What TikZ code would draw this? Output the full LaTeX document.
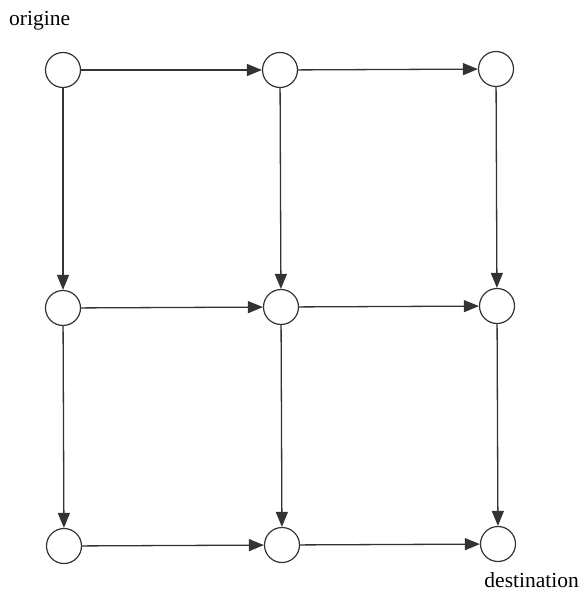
\documentclass[tikz,border=0pt]{standalone}
\usepackage{fontspec}
\setmainfont{Liberation Serif}
\usetikzlibrary{arrows.meta}
\begin{document}
\begin{tikzpicture}[x=1pt,y=-1pt,
  vtx/.style={circle,draw=black!80,line width=1.2pt,minimum size=35pt,inner sep=0pt},
  arr/.style={draw=black!80,line width=1.3pt,-{Triangle[length=15pt,width=12pt]}},
  lbl/.style={font=\fontsize{21.5}{24}\selectfont,inner sep=0pt}]
\useasboundingbox (0,0) rectangle (579,594);
\node[vtx] (a1) at (63,70) {};
\node[vtx] (a2) at (280,70) {};
\node[vtx] (a3) at (496,69) {};
\node[vtx] (b1) at (63,308) {};
\node[vtx] (b2) at (281,307) {};
\node[vtx] (b3) at (497,306) {};
\node[vtx] (c1) at (64,546) {};
\node[vtx] (c2) at (282,545) {};
\node[vtx] (c3) at (498,544) {};
\node[lbl,anchor=base west] (o) at (9,26) {origine};
\node[lbl,anchor=base east] (d) at (579,587) {destination};
\draw[arr] (a1) -- (a2);
\draw[arr] (a2) -- (a3);
\draw[arr] (b1) -- (b2);
\draw[arr] (b2) -- (b3);
\draw[arr] (c1) -- (c2);
\draw[arr] (c2) -- (c3);
\draw[arr] (a1) -- (b1);
\draw[arr] (b1) -- (c1);
\draw[arr] (a2) -- (b2);
\draw[arr] (b2) -- (c2);
\draw[arr] (a3) -- (b3);
\draw[arr] (b3) -- (c3);
\end{tikzpicture}
\end{document}
